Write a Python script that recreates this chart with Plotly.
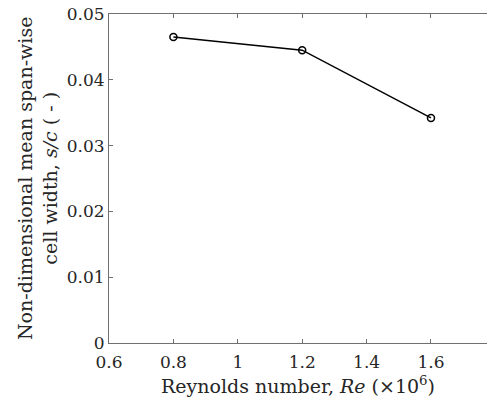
import plotly.graph_objects as go

re_values = [0.8, 1.2, 1.6]
span_width = [0.0465, 0.0445, 0.0342]

x_ticks = [0.6, 0.8, 1.0, 1.2, 1.4, 1.6]
x_tick_labels = ["0.6", "0.8", "1", "1.2", "1.4", "1.6"]
y_ticks = [0, 0.01, 0.02, 0.03, 0.04, 0.05]
y_tick_labels = ["0", "0.01", "0.02", "0.03", "0.04", "0.05"]

font_family = "DejaVu Serif, serif"
axis_color = "#707070"
text_color = "#262626"

fig = go.Figure()
fig.add_trace(go.Scatter(
    x=re_values, y=span_width, mode="lines+markers",
    line=dict(color="black", width=1.5),
    marker=dict(symbol="circle-open", size=7, color="black", line=dict(width=1.5)),
    showlegend=False,
))

fig.update_layout(
    width=487, height=400,
    margin=dict(l=108.5, r=0, t=14, b=57),
    plot_bgcolor="white", paper_bgcolor="white",
    font=dict(family=font_family, size=17, color=text_color),
    xaxis=dict(
        range=[0.6, 1.774], tickvals=x_ticks, ticktext=x_tick_labels,
        ticks="inside", ticklen=4, tickcolor=axis_color, tickwidth=1,
        showline=True, linecolor=axis_color, linewidth=1, mirror="ticks",
        showgrid=False, zeroline=False, ticklabelstandoff=4,
        ticklabeloverflow="allow",
        tickfont=dict(family=font_family, size=17, color=text_color),
    ),
    yaxis=dict(
        range=[0, 0.05], tickvals=y_ticks, ticktext=y_tick_labels,
        ticks="inside", ticklen=4, tickcolor=axis_color, tickwidth=1,
        showline=True, linecolor=axis_color, linewidth=1, mirror=False,
        showgrid=False, zeroline=False, ticklabelstandoff=0,
        ticklabeloverflow="allow",
        tickfont=dict(family=font_family, size=17, color=text_color),
    ),
    annotations=[
        dict(text="Reynolds number, <i>Re</i> (×10<sup>6</sup>)", xref="paper", yref="paper",
             x=0.5, y=-0.128, xanchor="center", yanchor="middle", showarrow=False,
             font=dict(family=font_family, size=19, color=text_color)),
        dict(text="Non-dimensional mean span-wise<br>cell width, <i>s/c</i> ( - )", xref="paper", yref="paper",
             x=-0.189, y=0.5, xanchor="center", yanchor="middle", showarrow=False, textangle=-90,
             font=dict(family=font_family, size=19, color=text_color)),
    ],
)

fig.write_html("out.html", config={"displayModeBar": False},
               post_script="document.body.style.margin='0';document.body.style.overflow='hidden';")
